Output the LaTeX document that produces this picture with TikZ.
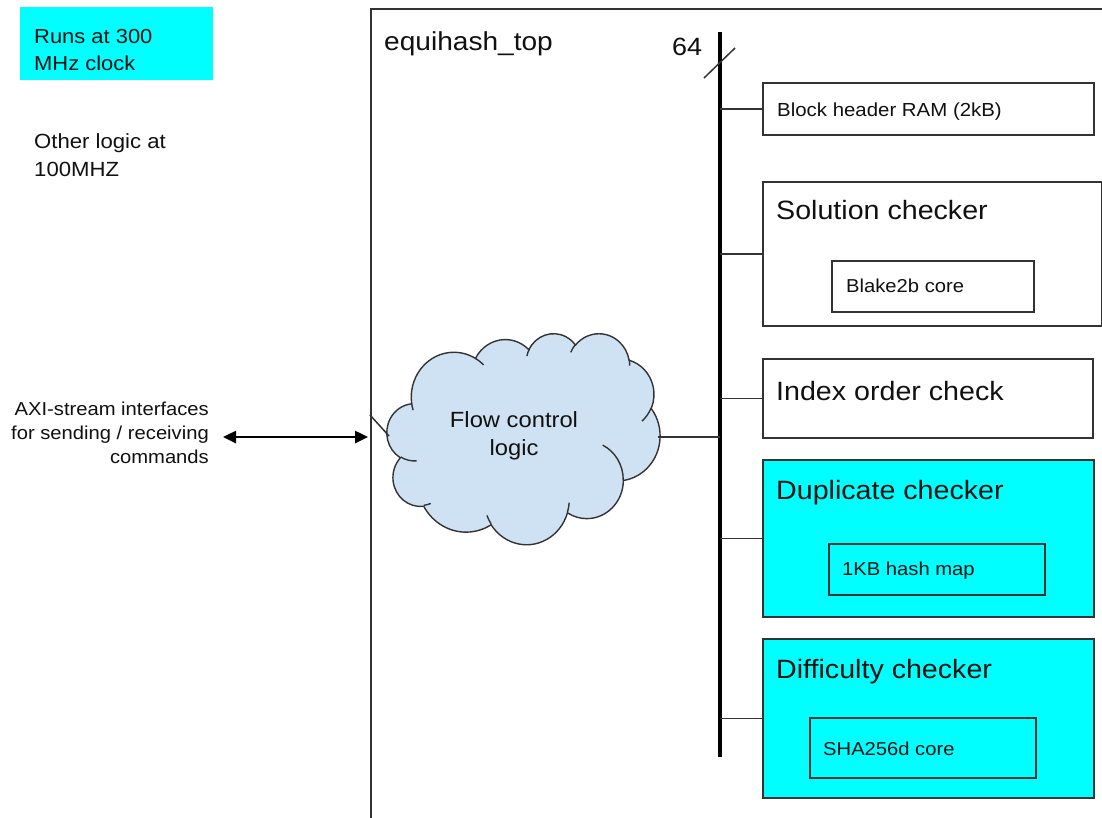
\documentclass[tikz,border=0pt]{standalone}
\usepackage{fontspec}
\setmainfont{Liberation Sans}[FakeStretch=1.08]
\usetikzlibrary{arrows.meta}
\definecolor{edge}{HTML}{333333}
\definecolor{ink}{HTML}{111111}
\definecolor{cyanfill}{HTML}{00FFFF}
\definecolor{cloudfill}{HTML}{CFE2F3}
\newcommand\fsz[2]{\fontsize{#1}{#2}\selectfont}
\tikzset{
  box/.style={draw=edge, line width=1.5pt, rectangle, inner sep=0pt, anchor=north west},
  cyanbox/.style={box, fill=cyanfill},
  txt/.style={inner sep=0pt, text=ink},
  wire/.style={draw=edge, line width=1.5pt},
  cloudline/.style={draw=edge, line width=1.4pt},
  ooarc/.style n args={4}{insert path={arc[x radius=#1, y radius=#2,
     start angle={atan2((#1)*sin(#3),(#2)*cos(#3))},
     delta angle={Mod(atan2((#1)*sin((#3)+(#4)),(#2)*cos((#3)+(#4)))-atan2((#1)*sin(#3),(#2)*cos(#3)),360)}]}}
}
\begin{document}
\begin{tikzpicture}[x=1pt,y=-1pt]
\clip (0,0) rectangle (1102,817);
\fill[white] (0,0) rectangle (1102,817);

% legend
\node[inner sep=0pt, fill=cyanfill, anchor=north west, minimum width=193pt, minimum height=73pt] (legend) at (20,7) {};
\node[txt, anchor=base west, align=left, font=\fsz{20.3}{27}] (legtxt) at (34,70) {Runs at 300\\MHz clock};
\node[txt, anchor=base west, align=left, font=\fsz{20.5}{28}] (other) at (34,176) {Other logic at\\100MHZ};

% top level block
\node[box, minimum width=760pt, minimum height=840pt] (top) at (370,8) {};
\node[txt, anchor=base west, font=\fsz{26}{30}] (toplbl) at (384,50) {equihash\_top};

% bus
\coordinate (busT) at (720,32);
\coordinate (busB) at (720,757);
\draw[line width=4pt, black] (busT) -- (busB);
\coordinate (slA) at (704,78);
\coordinate (slB) at (735,48);
\draw[wire] (slA) -- (slB);
\node[txt, anchor=base west, font=\fsz{25}{30}] (width) at (672,55) {64};

% right-hand blocks
\node[box, minimum width=331pt, minimum height=52pt] (b1) at (762,82) {};
\node[txt, anchor=base west, font=\fsz{18.9}{22}] at (777,116) {Block header RAM (2kB)};

\node[box, minimum width=339pt, minimum height=144pt] (b2) at (762,181) {};
\node[txt, anchor=base west, font=\fsz{26.5}{30}] at (776,219) {Solution checker};
\node[box, minimum width=202pt, minimum height=51pt] (b2i) at (831,260) {};
\node[txt, anchor=base west, font=\fsz{18.7}{22}] at (846,292) {Blake2b core};

\node[box, minimum width=330pt, minimum height=79pt] (b3) at (762,358) {};
\node[txt, anchor=base west, font=\fsz{26.5}{30}] at (776,400) {Index order check};

\node[cyanbox, minimum width=331pt, minimum height=157pt] (b4) at (762,459) {};
\node[txt, anchor=base west, font=\fsz{26.5}{30}] at (776,499) {Duplicate checker};
\node[cyanbox, minimum width=216pt, minimum height=51pt] (b4i) at (828,543) {};
\node[txt, anchor=base west, font=\fsz{18.7}{22}] at (842,575) {1KB hash map};

\node[cyanbox, minimum width=331pt, minimum height=159pt] (b5) at (762,638) {};
\node[txt, anchor=base west, font=\fsz{26.5}{30}] at (776,678) {Difficulty checker};
\node[cyanbox, minimum width=226pt, minimum height=60pt] (b5i) at (809,717) {};
\node[txt, anchor=base west, font=\fsz{18.7}{22}] at (823,755) {SHA256d core};

\foreach \b in {b1,b2,b3,b4,b5}
  \draw[wire] (busT |- \b.west) -- (\b.west);

% cloud
\begin{scope}[xshift=387pt, yshift=-333pt, x=0.6319pt, y=-0.4884pt]
\draw[cloudline, fill=cloudfill] (39.00,143.70)
  [ooarc={67.53}{91.90}{-190.4875}{123.7805}]
  [ooarc={53.33}{72.67}{-144.1024}{89.9452}]
  [ooarc={43.65}{59.45}{-145.8079}{99.7230}]
  [ooarc={48.57}{65.95}{-130.9861}{117.2417}]
  [ooarc={53.33}{72.73}{-78.7089}{109.0269}]
  [ooarc={67.75}{92.20}{-46.2673}{130.2690}]
  [ooarc={57.85}{78.67}{0.6250}{114.0333}]
  [ooarc={67.52}{92.15}{22.4516}{115.1726}]
  [ooarc={77.20}{105.43}{66.2426}{75.7110}]
  [ooarc={43.60}{59.18}{-274.9421}{146.7356}]
  [ooarc={43.45}{59.45}{-246.8285}{152.5189}]
  -- cycle;
\draw[cloudline]
  (46.93,261.77) [ooarc={43.45}{59.45}{86.7420}{26.4295}]
  (69.28,348.99) [ooarc={43.60}{59.18}{73.6105}{11.4475}]
  (164.78,390.90) [ooarc={67.52}{92.15}{137.6242}{14.0811}]
  (288.27,347.51) [ooarc={67.52}{92.15}{6.4533}{15.9984}]
  (341.29,229.54) [ooarc={57.85}{78.67}{-70.2924}{70.9174}]
  (417.98,153.54) [ooarc={53.33}{72.73}{30.3180}{27.7515}]
  (383.24,54.26) [ooarc={48.57}{65.95}{-13.7443}{14.8589}]
  (290.78,39.52) [ooarc={48.57}{65.95}{-149.1815}{18.1954}]
  (221.41,47.20) [ooarc={43.65}{59.45}{-163.4943}{19.0138}]
  (140.00,51.92) [ooarc={67.53}{91.90}{-66.7070}{12.3194}]
  (41.27,157.89) [ooarc={67.53}{91.90}{157.6544}{11.8582}];
\end{scope}
\node[txt, anchor=base, align=center, font=\fsz{22}{28}] (flow) at (514,455) {Flow control\\logic};
\coordinate (cloudE) at (658,437);
\coordinate (cloudW) at (389,436);
\coordinate (topW) at (370,415);
\draw[wire] (cloudE) -- (busT |- cloudE);
\draw[wire] (topW) -- (cloudW);

% AXI interface
\node[txt, anchor=base east, align=right, font=\fsz{18.7}{24}] (axi) at (209,463) {AXI-stream interfaces\\for sending / receiving\\commands};
\coordinate (axiL) at (223,437);
\coordinate (axiR) at (368,437);
\draw[line width=2.5pt, black, {Triangle[length=13pt,width=12pt]}-{Triangle[length=13pt,width=12pt]}] (axiL) -- (axiR);
\end{tikzpicture}
\end{document}
